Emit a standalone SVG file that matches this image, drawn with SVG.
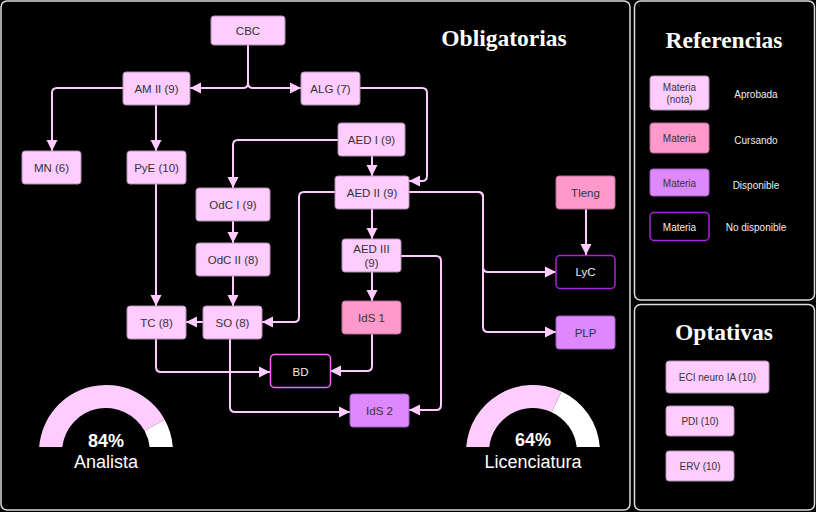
<svg xmlns="http://www.w3.org/2000/svg" width="816" height="512" viewBox="0 0 816 512">
<defs>
<marker id="arr" markerUnits="userSpaceOnUse" markerWidth="12" markerHeight="12" refX="11" refY="6" orient="auto">
<path d="M0,0.5 L11,6 L0,11.5 Z" fill="#ffccff"/>
</marker>
<style>
.panel{fill:#000;stroke:#dddddd;stroke-width:1.5}
.ap{fill:#ffccff;stroke:#b08fb0;stroke-width:1}
.cu{fill:#ff99cc;stroke:#b06f90;stroke-width:1}
.di{fill:#dd88ff;stroke:#9f5fbf;stroke-width:1}
.nd{fill:#000;stroke:#aa22dd;stroke-width:1.5}
.nd2{fill:#000;stroke:#ff66ff;stroke-width:1.5}
.t{font-family:"Liberation Sans",Arial,sans-serif;font-size:11.5px;fill:#333;text-anchor:middle}
.tw{font-family:"Liberation Sans",Arial,sans-serif;font-size:11.5px;fill:#eeeeee;text-anchor:middle}
.lt{font-family:"Liberation Sans",Arial,sans-serif;font-size:10px;fill:#333;text-anchor:middle}
.ltw{font-family:"Liberation Sans",Arial,sans-serif;font-size:10px;fill:#eeeeee;text-anchor:middle}
.title{font-family:"Liberation Serif","Times New Roman",serif;font-size:23.5px;font-weight:bold;fill:#fff;text-anchor:middle}
.e{fill:none;stroke:#ffccff;stroke-width:2;marker-end:url(#arr)}
.g1{font-family:"Liberation Sans",Arial,sans-serif;font-size:18px;font-weight:bold;fill:#fff;text-anchor:middle}
.g2{font-family:"Liberation Sans",Arial,sans-serif;font-size:18px;fill:#fff;text-anchor:middle}
</style>
</defs>
<rect x="0" y="0" width="816" height="512" fill="#000"/>
<g id="panels">
<rect class="panel" x="1" y="1" width="629" height="509" rx="6"/>
<rect class="panel" x="634.5" y="1" width="180" height="299" rx="6"/>
<rect class="panel" x="634.5" y="304.5" width="180" height="205.5" rx="6"/>
<text class="title" x="504" y="46">Obligatorias</text>
<text class="title" x="724" y="48">Referencias</text>
<text class="title" x="724" y="340">Optativas</text>
</g>
<g id="connectors">
<path class="e" d="M248,45 V83 Q248,88 243,88 H190"/>
<path class="e" d="M248,45 V83 Q248,88 253,88 H301"/>
<path class="e" d="M123,88 H57 Q52,88 52,93 V151"/>
<path class="e" d="M156,105 V151"/>
<path class="e" d="M360,88 H422 Q427,88 427,93 V176 Q427,181 422,181 H409"/>
<path class="e" d="M372,156 V176"/>
<path class="e" d="M338,140 H238 Q233,140 233,145 V188"/>
<path class="e" d="M335,192 H304 Q299,192 299,197 V317 Q299,322 294,322 H262"/>
<path class="e" d="M409,192 H478 Q483,192 483,197 V267 Q483,272 488,272 H556"/>
<path class="e" d="M409,192 H478 Q483,192 483,197 V327 Q483,332 488,332 H556"/>
<path class="e" d="M372,209 V239"/>
<path class="e" d="M372,272 V301"/>
<path class="e" d="M401,256 H436 Q441,256 441,261 V405 Q441,410 436,410 H409"/>
<path class="e" d="M233,221 V243"/>
<path class="e" d="M233,276 V306"/>
<path class="e" d="M203,322 H186"/>
<path class="e" d="M156,184 V306"/>
<path class="e" d="M156,339 V367 Q156,372 161,372 H270"/>
<path class="e" d="M372,334 V366 Q372,371 367,371 H330"/>
<path class="e" d="M230,339 V407 Q230,412 235,412 H350"/>
<path class="e" d="M586,209 V255"/>
</g>
<g id="n-cbc"><rect class="ap" x="211" y="16" width="74" height="29" rx="3"/><text class="t" x="248" y="34.5">CBC</text></g>
<g id="n-am2"><rect class="ap" x="123" y="72" width="67" height="33" rx="3"/><text class="t" x="156.5" y="92.5">AM II (9)</text></g>
<g id="n-alg"><rect class="ap" x="301" y="72" width="59" height="33" rx="3"/><text class="t" x="330.5" y="92.5">ALG (7)</text></g>
<g id="n-mn"><rect class="ap" x="22" y="151" width="59" height="33" rx="3"/><text class="t" x="51.5" y="171.5">MN (6)</text></g>
<g id="n-pye"><rect class="ap" x="127" y="151" width="59" height="33" rx="3"/><text class="t" x="156.5" y="171.5">PyE (10)</text></g>
<g id="n-aed1"><rect class="ap" x="338" y="123" width="67" height="33" rx="3"/><text class="t" x="371.5" y="143.5">AED I (9)</text></g>
<g id="n-aed2"><rect class="ap" x="335" y="176" width="74" height="33" rx="3"/><text class="t" x="372" y="196.5">AED II (9)</text></g>
<g id="n-odc1"><rect class="ap" x="196" y="188" width="74" height="33" rx="3"/><text class="t" x="233" y="208.5">OdC I (9)</text></g>
<g id="n-odc2"><rect class="ap" x="196" y="243" width="74" height="33" rx="3"/><text class="t" x="233" y="263.5">OdC II (8)</text></g>
<g id="n-aed3"><rect class="ap" x="342" y="239" width="59" height="33" rx="3"/><text class="t" x="371.5" y="253">AED III</text><text class="t" x="371.5" y="267">(9)</text></g>
<g id="n-tc"><rect class="ap" x="127" y="306" width="59" height="33" rx="3"/><text class="t" x="156.5" y="326.5">TC (8)</text></g>
<g id="n-so"><rect class="ap" x="203" y="306" width="59" height="33" rx="3"/><text class="t" x="232.5" y="326.5">SO (8)</text></g>
<g id="n-ids1"><rect class="cu" x="342" y="301" width="59" height="33" rx="3"/><text class="t" x="371.5" y="321.5">IdS 1</text></g>
<g id="n-bd"><rect class="nd2" x="270.5" y="354.5" width="60" height="33" rx="4"/><text class="tw" x="300.5" y="375.5">BD</text></g>
<g id="n-ids2"><rect class="di" x="350" y="394" width="59" height="33" rx="3"/><text class="t" x="379.5" y="414.5">IdS 2</text></g>
<g id="n-tleng"><rect class="cu" x="556" y="176" width="59" height="33" rx="3"/><text class="t" x="585.5" y="196.5">Tleng</text></g>
<g id="n-lyc"><rect class="nd" x="556" y="255.5" width="59" height="33" rx="4"/><text class="tw" x="585.5" y="276">LyC</text></g>
<g id="n-plp"><rect class="di" x="556" y="316" width="59" height="33" rx="3"/><text class="t" x="585.5" y="336.5">PLP</text></g>
<g id="legend">
<rect class="ap" x="650" y="76" width="59" height="34" rx="3"/><text class="lt" x="679.5" y="91">Materia</text><text class="lt" x="679.5" y="103">(nota)</text>
<text class="ltw" x="756" y="98">Aprobada</text>
<rect class="cu" x="650" y="123" width="59" height="30" rx="3"/><text class="lt" x="679.5" y="142">Materia</text>
<text class="ltw" x="756" y="144">Cursando</text>
<rect class="di" x="650" y="169" width="59" height="27" rx="3"/><text class="lt" x="679.5" y="187">Materia</text>
<text class="ltw" x="756" y="189">Disponible</text>
<rect class="nd" x="650" y="212.5" width="59" height="28" rx="4"/><text class="ltw" x="679.5" y="231">Materia</text>
<text class="ltw" x="756" y="231">No disponible</text>
</g>
<g id="n-eci"><rect class="ap" x="666" y="361" width="103" height="32" rx="3"/><text class="lt" x="717.5" y="381">ECI neuro IA (10)</text></g>
<g id="n-pdi"><rect class="ap" x="666" y="406" width="68" height="30" rx="3"/><text class="lt" x="700" y="425">PDI (10)</text></g>
<g id="n-erv"><rect class="ap" x="666" y="451" width="68" height="30" rx="3"/><text class="lt" x="700" y="470">ERV (10)</text></g>
<g id="gauge-analista">
<path d="M39.19,447 A67,67 0 0 1 164.72,419.72 L144.56,430.8 A44,44 0 0 0 62.29,447 Z" fill="#ffccff"/>
<path d="M164.72,419.72 A67,67 0 0 1 172.81,447 L149.71,447 A44,44 0 0 0 144.56,430.8 Z" fill="#ffffff"/>
<text class="g1" x="106" y="447">84%</text>
<text class="g2" x="106" y="468">Analista</text>
</g>
<g id="gauge-licenciatura">
<path d="M466.19,447 A67,67 0 0 1 561.53,391.38 L551.73,412.19 A44,44 0 0 0 489.29,447 Z" fill="#ffccff"/>
<path d="M561.53,391.38 A67,67 0 0 1 599.81,447 L576.71,447 A44,44 0 0 0 551.73,412.19 Z" fill="#ffffff"/>
<text class="g1" x="533" y="446">64%</text>
<text class="g2" x="533" y="468">Licenciatura</text>
</g>
</svg>
